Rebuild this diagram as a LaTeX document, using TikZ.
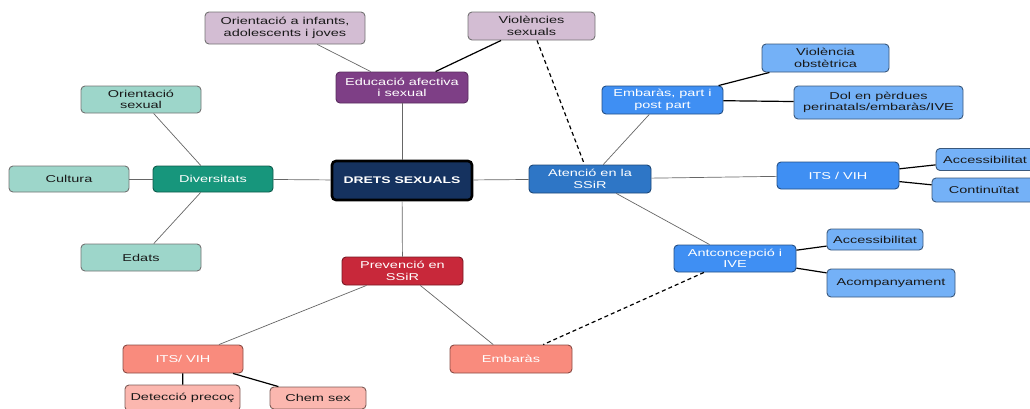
\documentclass[tikz,border=0pt]{standalone}
\usepackage{fontspec}
\setmainfont{Liberation Sans}[FakeStretch=1.45]
\definecolor{purL}{HTML}{D3BDD3}
\definecolor{purD}{HTML}{7E3F86}
\definecolor{tealL}{HTML}{9DD6CA}
\definecolor{tealD}{HTML}{17967C}
\definecolor{navy}{HTML}{15325F}
\definecolor{blueA}{HTML}{2E76C6}
\definecolor{blueM}{HTML}{3F8FF3}
\definecolor{blueL}{HTML}{74B1F7}
\definecolor{redD}{HTML}{C8283A}
\definecolor{pinkM}{HTML}{F98B7D}
\definecolor{pinkL}{HTML}{FBB7AF}
\begin{document}
\begin{tikzpicture}[x=1pt,y=-1pt,
  box/.style={rounded corners=4pt, inner sep=0pt, align=center, line width=0.9pt,
    font=\fontsize{10}{11.3}\selectfont},
  dark/.style={box, text=white},
  leaf/.style={box, text=black!90},
  grayline/.style={draw=black!60, line width=0.7pt},
  blackline/.style={draw=black, line width=1.2pt},
  dashline/.style={draw=black, line width=1.2pt, dash pattern=on 4pt off 3pt}]
\useasboundingbox (0,0) rectangle (1030,408);
% nodes
\node[leaf, fill=purL, draw=black!55, minimum width=160, minimum height=32] (infants) at (285,28) {Orientació a infants,\\adolescents i joves};
\node[leaf, fill=purL, draw=black!55, minimum width=127, minimum height=28] (viol) at (531.5,26) {Violències\\sexuals};
\node[dark, fill=purD, draw=purD!70!black, minimum width=132, minimum height=31] (educ) at (402,87.5) {Educació afectiva\\i sexual};
\node[leaf, fill=tealL, draw=black!55, minimum width=120, minimum height=27] (orsex) at (141,99.5) {Orientació\\sexual};
\node[leaf, fill=tealL, draw=black!55, minimum width=120, minimum height=26] (cult) at (69,179) {Cultura};
\node[dark, fill=tealD, draw=tealD!60!black, minimum width=120, minimum height=26] (div) at (213,179) {Diversitats};
\node[leaf, fill=tealL, draw=black!55, minimum width=120, minimum height=27] (edats) at (141,257.5) {Edats};
\node[dark, fill=navy, draw=black, line width=2.6pt, minimum width=140, minimum height=39, font=\fontsize{9.6}{11}\selectfont\bfseries] (drets) at (402,180.5) {DRETS SEXUALS};
\node[dark, fill=blueA, draw=blueA!60!black, minimum width=122, minimum height=28] (aten) at (590,179) {Atenció en la\\SSiR};
\node[dark, fill=blueM, draw=blueM!55!black, minimum width=121, minimum height=28] (embpart) at (662.5,100) {Embaràs, part i\\post part};
\node[leaf, fill=blueL, draw=blueL!50!black, minimum width=127, minimum height=28] (violob) at (825.5,58) {Violència\\obstètrica};
\node[leaf, fill=blueL, draw=blueL!50!black, minimum width=169, minimum height=33] (dol) at (878.5,102.5) {Dol en pèrdues\\perinatals/embaràs/IVE};
\node[dark, fill=blueM, draw=blueM!55!black, minimum width=122, minimum height=27] (itsb) at (838,175.5) {ITS / VIH};
\node[leaf, fill=blueL, draw=blueL!50!black, minimum width=98, minimum height=22] (acc1) at (985,159.5) {Accessibilitat};
\node[leaf, fill=blueL, draw=blueL!50!black, minimum width=104, minimum height=24] (cont) at (984,190) {Continuïtat};
\node[dark, fill=blueM, draw=blueM!55!black, minimum width=122, minimum height=27] (antic) at (735,258.5) {Antconcepció i\\IVE};
\node[leaf, fill=blueL, draw=blueL!50!black, minimum width=96, minimum height=21] (acc2) at (875,239.5) {Accessibilitat};
\node[leaf, fill=blueL, draw=blueL!50!black, minimum width=128, minimum height=28] (acomp) at (891,283) {Acompanyament};
\node[dark, fill=redD, draw=redD!60!black, minimum width=121, minimum height=28] (prev) at (402.5,271) {Prevenció en\\SSiR};
\node[dark, fill=pinkM, draw=pinkM!55!black, minimum width=120, minimum height=28] (itsp) at (183,359) {ITS/ VIH};
\node[dark, fill=pinkM, draw=pinkM!55!black, minimum width=122, minimum height=28] (emb) at (511,359) {Embaràs};
\node[leaf, fill=pinkL, draw=pinkL!50!black, minimum width=115, minimum height=26] (detec) at (182.5,398) {Detecció precoç};
\node[leaf, fill=pinkL, draw=pinkL!50!black, minimum width=96, minimum height=22] (chem) at (318,398) {Chem sex};
% connectors
\draw[grayline] (infants) -- (educ);
\draw[blackline] (viol) -- (educ);
\draw[dashline] (viol) -- (aten);
\draw[grayline] (educ) -- (drets);
\draw[grayline] (drets) -- (div);
\draw[grayline] (drets) -- (aten);
\draw[grayline] (drets) -- (prev);
\draw[grayline] (div) -- (orsex);
\draw[grayline] (div) -- (cult);
\draw[grayline] (div) -- (edats);
\draw[grayline] (aten) -- (embpart);
\draw[grayline] (aten) -- (itsb);
\draw[grayline] (aten) -- (antic);
\draw[blackline] (embpart) -- (violob);
\draw[blackline] (embpart) -- (dol);
\draw[blackline] (itsb) -- (acc1);
\draw[blackline] (itsb) -- (cont);
\draw[blackline] (antic) -- (acc2);
\draw[blackline] (antic) -- (acomp);
\draw[dashline] (antic) -- (emb);
\draw[grayline] (prev) -- (itsp);
\draw[grayline] (prev) -- (emb);
\draw[blackline] (itsp) -- (detec);
\draw[blackline] (itsp) -- (chem);
\end{tikzpicture}
\end{document}
